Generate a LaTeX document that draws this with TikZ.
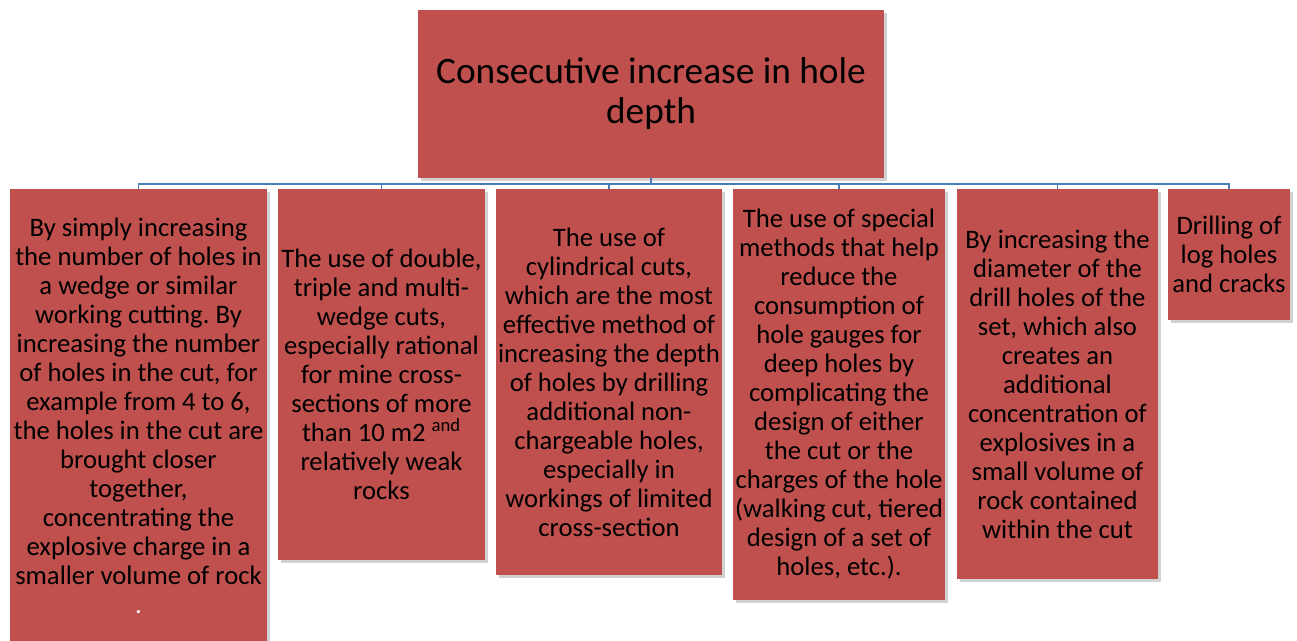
\documentclass[tikz,border=0pt]{standalone}
\usepackage{fontspec}
\setmainfont{Carlito}
\usepackage{tikz}
\usetikzlibrary{shadows}
\frenchspacing
\definecolor{boxred}{HTML}{C0504D}
\definecolor{linkblue}{HTML}{4A7EBB}
\tikzset{
  topnode/.style = {rectangle, fill=boxred, align=center, inner sep=0pt,
    drop shadow={shadow xshift=2pt, shadow yshift=-2pt, fill=black!30, opacity=0.6},
    font=\fontsize{28}{30}\selectfont},% cadre du haut
  subnode/.style = {topnode, font=\fontsize{20}{21.75}\selectfont},% cadres du bas
  link/.style = {draw=linkblue, line width=1.3pt},
}

\begin{document}
\begin{tikzpicture}[x=0.75pt,y=-0.75pt]

    \useasboundingbox (0,0) rectangle (1297,640);

    \node[topnode, minimum width=466*0.75pt, minimum height=168*0.75pt] (root) at (651,94)
        {Consecutive increase in hole\\depth};

    \node[subnode, minimum width=257*0.75pt, minimum height=454*0.75pt] (m1) at (138.5,416)
        {By simply increasing\\the number of holes in\\a wedge or similar\\working cutting. By\\increasing the number\\of holes in the cut, for\\example from 4 to 6,\\the holes in the cut are\\brought closer\\together,\\concentrating the\\explosive charge in a\\smaller volume of rock\\\textcolor{white}{.}};
    \node[subnode, minimum width=207*0.75pt, minimum height=371*0.75pt] (m2) at (381.5,374.5)
        {The use of double,\\triple and multi-\\wedge cuts,\\especially rational\\for mine cross-\\sections of more\\than 10 m2 \textsuperscript{and}\\relatively weak\\rocks};
    \node[subnode, minimum width=226*0.75pt, minimum height=386*0.75pt] (m3) at (609,382)
        {The use of\\cylindrical cuts,\\which are the most\\effective method of\\increasing the depth\\of holes by drilling\\additional non-\\chargeable holes,\\especially in\\workings of limited\\cross-section};
    \node[subnode, minimum width=212*0.75pt, minimum height=411*0.75pt] (m4) at (839,394.5)
        {The use of special\\methods that help\\reduce the\\consumption of\\hole gauges for\\deep holes by\\complicating the\\design of either\\the cut or the\\charges of the hole\\(walking cut, tiered\\design of a set of\\holes, etc.).};
    \node[subnode, minimum width=201*0.75pt, minimum height=390*0.75pt] (m5) at (1057.5,384)
        {By increasing the\\diameter of the\\drill holes of the\\set, which also\\creates an\\additional\\concentration of\\explosives in a\\small volume of\\rock contained\\within the cut};
    \node[subnode, minimum width=122*0.75pt, minimum height=131*0.75pt] (m6) at (1229,254.5)
        {Drilling of\\log holes\\and cracks};

    \foreach \m in {m1,m2,m3,m4,m5,m6}
        \path[link] (root.south) -- ++(0,6) -| (\m.north);

\end{tikzpicture}
\end{document}
